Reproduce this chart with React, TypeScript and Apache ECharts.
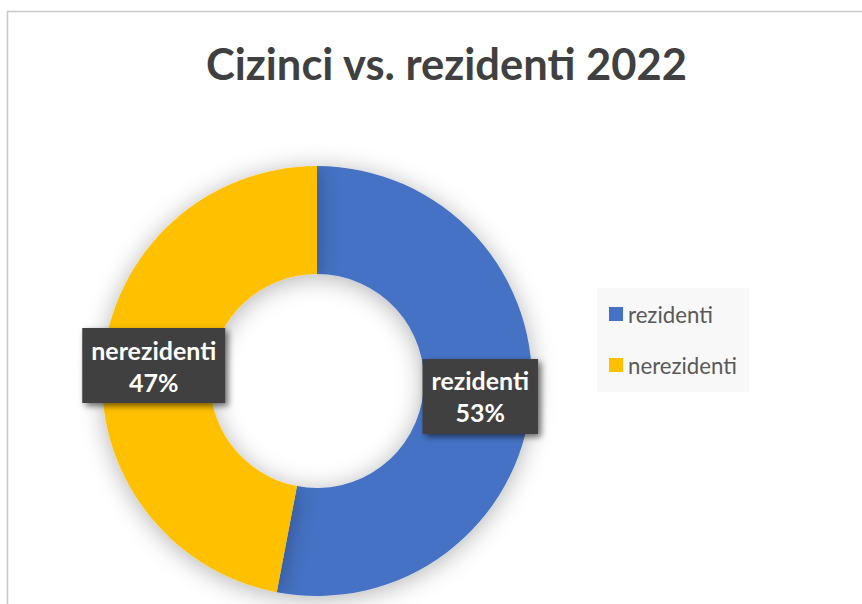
import React, { useEffect, useRef } from "react";
import * as echarts from "echarts";

const titleText = "Cizinci vs. rezidenti 2022";
const categories = ["rezidenti", "nerezidenti"];
const values = [53, 47];
const colors = ["#4472C4", "#FFC000"];

function fitSize(text: string, weight: string, target: number): number {
  const c = document.createElement("canvas");
  const ctx = c.getContext("2d");
  if (!ctx) return 20;
  ctx.font = `${weight} 100px Lato`;
  const w = ctx.measureText(text).width;
  return (100 * target) / w;
}

export default function App() {
  const ref = useRef<HTMLDivElement>(null);
  useEffect(() => {
    if (!ref.current) return;
    const chart = echarts.init(ref.current, undefined, { renderer: "svg" });
    const titleSize = fitSize(titleText, "bold", 482);
    const legendSize = fitSize("nerezidenti", "normal", 109);
    const labelSize = fitSize("nerezidenti", "bold", 125);
    chart.setOption({
      animation: false,
      backgroundColor: "#ffffff",
      title: {
        text: titleText,
        left: 201,
        top: 36,
        textStyle: {
          fontFamily: "Lato",
          fontWeight: "bold",
          fontSize: titleSize,
          color: "#404040",
        },
      },
      graphic: [
        {
          type: "rect",
          shape: { x: 7.5, y: 11.5, width: 1000, height: 1000 },
          style: { fill: "none", stroke: "#c8c8c8", lineWidth: 1.5 },
          silent: true,
        },
      ],
      legend: {
        orient: "vertical",
        left: 597,
        top: 288,
        backgroundColor: "#f8f8f8",
        padding: [15, 12, 16, 12],
        itemGap: 29,
        itemWidth: 14,
        itemHeight: 14,
        icon: "rect",
        data: categories,
        textStyle: {
          fontFamily: "Lato",
          fontSize: legendSize,
          lineHeight: 20,
          color: "#595959",
        },
      },
      series: [
        {
          type: "pie",
          center: [317, 381],
          radius: [107, 215],
          startAngle: 90,
          clockwise: true,
          avoidLabelOverlap: false,
          emphasis: { disabled: true },
          itemStyle: {
            shadowBlur: 24,
            shadowColor: "rgba(0,0,0,0.3)",
            shadowOffsetY: 3,
          },
          label: {
            show: true,
            position: "inside",
            formatter: (p: any) => `${p.name}\n${Math.round(p.percent)}%`,
            color: "#ffffff",
            fontFamily: "Lato",
            fontWeight: "bold",
            fontSize: labelSize,
            lineHeight: 32,
            backgroundColor: "#404040",
            padding: [6, 9, 5, 9],
            shadowColor: "rgba(0,0,0,0.55)",
            shadowBlur: 6,
            shadowOffsetX: 3,
            shadowOffsetY: 3,
          },
          labelLine: { show: false },
          data: categories.map((c, i) => ({
            name: c,
            value: values[i],
            itemStyle: { color: colors[i] },
          })),
        },
      ],
    });
    return () => chart.dispose();
  }, []);
  return (
    <div
      ref={ref}
      style={{ position: "fixed", left: 0, top: 0, width: 862, height: 604 }}
    />
  );
}
